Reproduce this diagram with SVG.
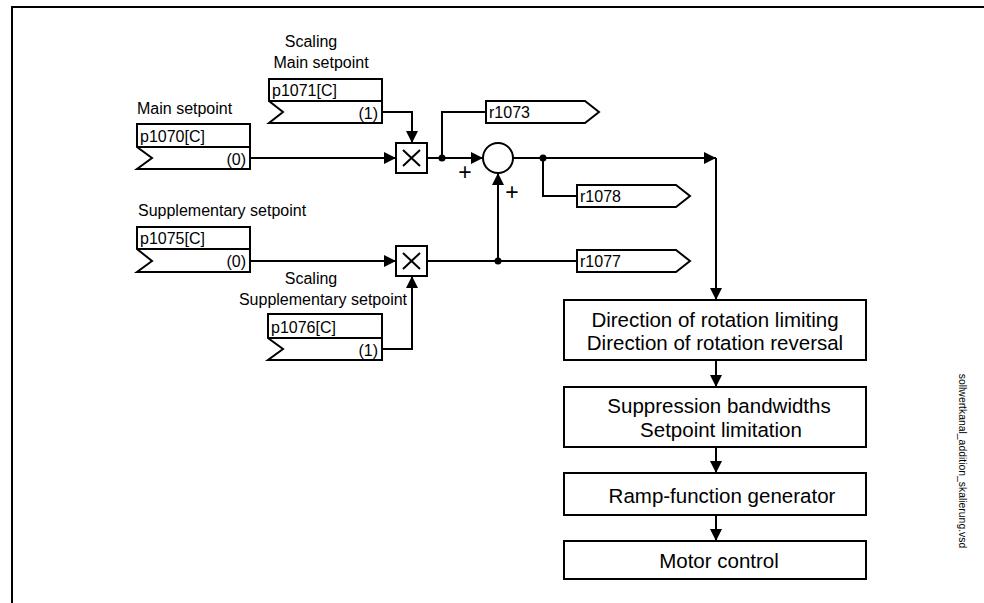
<svg xmlns="http://www.w3.org/2000/svg" width="984" height="603" viewBox="0 0 984 603">
<style>
text{font-family:"Liberation Sans",Arial,Helvetica,sans-serif;fill:#000}
.s{font-size:16px}
.b{font-size:20.5px;text-anchor:middle}
.m{text-anchor:middle}
.e{text-anchor:end}
.p{font-size:23px;text-anchor:middle}
.sh{fill:#fff;stroke:#000;stroke-width:2}
.ln{fill:none;stroke:#000;stroke-width:2}
.ar{fill:none;stroke:#000;stroke-width:2;marker-end:url(#ah)}
.dot{fill:#000}
</style>
<defs>
<marker id="ah" markerUnits="userSpaceOnUse" markerWidth="12" markerHeight="12" refX="12" refY="6" orient="auto" viewBox="0 0 12 12">
<path d="M0,0 L12,6 L0,12 Z" fill="#000"/>
</marker>
</defs>
<rect width="984" height="603" fill="#fff"/>
<path class="ln" d="M12,603 V7 H984"/>

<g id="connectors">
<path class="ar" d="M250,158 H396"/>
<path class="ar" d="M382,112 H412 V143"/>
<path class="ar" d="M427,158 H483"/>
<path class="ln" d="M442,158 V112 H486"/>
<path class="ar" d="M513,158 H716"/>
<path class="ar" d="M716,158 V300"/>
<path class="ln" d="M543,158 V196 H577"/>
<path class="ar" d="M250,261 H396"/>
<path class="ar" d="M382,349 H412 V276"/>
<path class="ln" d="M427,261 H577"/>
<path class="ar" d="M498,261 V173"/>
<path class="ar" d="M716,360 V387"/>
<path class="ar" d="M716,447 V473"/>
<path class="ar" d="M716,515 V541"/>
<circle class="dot" cx="442" cy="158" r="3.5"/>
<circle class="dot" cx="543" cy="158" r="3.5"/>
<circle class="dot" cx="498" cy="261" r="3.5"/>
</g>

<g id="p1071">
<text class="s m" x="311" y="47">Scaling</text>
<text class="s m" x="321" y="68">Main setpoint</text>
<path class="sh" d="M269,79 H382 V123 H269 L283,112 L269,101 Z"/>
<path class="ln" d="M269,101 H382"/>
<text class="s" x="272" y="96">p1071[C]</text>
<text class="s e" x="378" y="119">(1)</text>
</g>

<g id="p1070">
<text class="s" x="137" y="114">Main setpoint</text>
<path class="sh" d="M137,124 H250 V169 H137 L152,158 L137,147 Z"/>
<path class="ln" d="M137,147 H250"/>
<text class="s" x="140" y="142">p1070[C]</text>
<text class="s e" x="246" y="165">(0)</text>
</g>

<g id="mul1">
<rect class="sh" x="396" y="143" width="31" height="30"/>
<path class="ln" d="M403,150 L420,166 M420,150 L403,166"/>
</g>

<g id="sum">
<circle class="sh" cx="498" cy="158" r="15"/>
<text class="p" x="465" y="180">+</text>
<text class="p" x="512" y="200">+</text>
</g>

<g id="r1073">
<path class="sh" d="M486,101 H585 L599,112 L585,123 H486 Z"/>
<text class="s" x="489" y="118">r1073</text>
</g>

<g id="r1078">
<path class="sh" d="M577,185 H676 L690,196 L676,207 H577 Z"/>
<text class="s" x="580" y="202">r1078</text>
</g>

<g id="r1077">
<path class="sh" d="M577,250 H676 L690,261 L676,272 H577 Z"/>
<text class="s" x="580" y="267">r1077</text>
</g>

<g id="p1075">
<text class="s" x="138" y="216">Supplementary setpoint</text>
<path class="sh" d="M137,227 H250 V272 H137 L152,261 L137,249 Z"/>
<path class="ln" d="M137,249 H250"/>
<text class="s" x="140" y="244">p1075[C]</text>
<text class="s e" x="246" y="267">(0)</text>
</g>

<g id="mul2">
<rect class="sh" x="396" y="246" width="31" height="30"/>
<path class="ln" d="M403,253 L420,269 M420,253 L403,269"/>
</g>

<g id="p1076">
<text class="s m" x="311" y="284">Scaling</text>
<text class="s m" x="323" y="305">Supplementary setpoint</text>
<path class="sh" d="M268,314 H382 V360 H268 L283,349 L268,338 Z"/>
<path class="ln" d="M268,338 H382"/>
<text class="s" x="271" y="333">p1076[C]</text>
<text class="s e" x="378" y="356">(1)</text>
</g>

<g id="block1">
<rect class="sh" x="564" y="300" width="302" height="60"/>
<text class="b" x="715" y="327">Direction of rotation limiting</text>
<text class="b" x="715" y="350">Direction of rotation reversal</text>
</g>

<g id="block2">
<rect class="sh" x="564" y="387" width="302" height="60"/>
<text class="b" x="719" y="413">Suppression bandwidths</text>
<text class="b" x="721" y="437">Setpoint limitation</text>
</g>

<g id="block3">
<rect class="sh" x="564" y="473" width="302" height="42"/>
<text class="b" x="722" y="503">Ramp-function generator</text>
</g>

<g id="block4">
<rect class="sh" x="564" y="541" width="302" height="38"/>
<text class="b" x="719" y="568">Motor control</text>
</g>

<text transform="translate(959,461) rotate(90)" style="font-size:10.4px" class="m">sollwertkanal_addition_skalierung.vsd</text>
</svg>
